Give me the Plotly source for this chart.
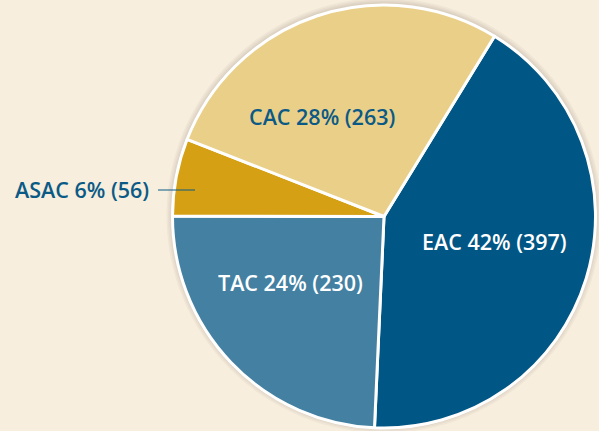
import plotly.graph_objects as go

categories = ["EAC", "TAC", "ASAC", "CAC"]
counts = [397, 230, 56, 263]
percents = [42, 24, 6, 28]
colors = ["#005684", "#4380a2", "#d5a014", "#e9cf88"]
text_colors = ["#ffffff", "#ffffff", "#0b5a86", "#0b5a86"]

labels_txt = [f"{c} {p}% ({n})" for c, p, n in zip(categories, percents, counts)]

# label anchor positions in pixel space (x from left, y from top) and anchors
label_pos = [(494, 241, "center"), (290, 282, "center"), (151, 189, "right"), (322, 116, "center")]

W, H = 599, 431
cx, cy, R = 384, 216.5, 211.5

fig = go.Figure()

# soft shadow behind the pie
for i, a in enumerate([0.035, 0.035, 0.04, 0.045]):
    r = R + 6 - i * 1.5
    fig.add_shape(type="circle", xref="x", yref="y",
                  x0=cx - r, x1=cx + r, y0=H - cy - r + 1, y1=H - cy + r + 1,
                  fillcolor=f"rgba(60,40,20,{a})", line=dict(width=0), layer="below")

fig.add_trace(go.Pie(
    labels=categories,
    values=counts,
    textinfo="none",
    sort=False,
    direction="clockwise",
    rotation=31.5,
    marker=dict(colors=colors, line=dict(color="#ffffff", width=3)),
    hoverinfo="label+value+percent",
    showlegend=False,
    domain=dict(x=[(cx - R) / W, (cx + R) / W], y=[(H - cy - R) / H, (H - cy + R) / H]),
))

for txt, col, (px, py, anc) in zip(labels_txt, text_colors, label_pos):
    fig.add_annotation(
        x=px, y=H - py, xref="x", yref="y",
        text=txt, showarrow=False,
        xanchor=anc, yanchor="middle",
        font=dict(family="Open Sans", size=21.5, color=col, weight=600),
    )

fig.add_shape(type="line", x0=158, x1=195, y0=H - 190, y1=H - 190,
              xref="x", yref="y", line=dict(color="#0b5a86", width=1.2))

fig.update_xaxes(range=[0, W], visible=False, fixedrange=True)
fig.update_yaxes(range=[0, H], visible=False, fixedrange=True)

fig.update_layout(
    width=W, height=H,
    margin=dict(l=0, r=0, t=0, b=0),
    paper_bgcolor="#f7eedd",
    plot_bgcolor="rgba(0,0,0,0)",
)

fig.write_html("out.html",
               config={"displayModeBar": False},
               post_script="document.body.style.margin='0';document.body.style.background='#f7eedd';")
